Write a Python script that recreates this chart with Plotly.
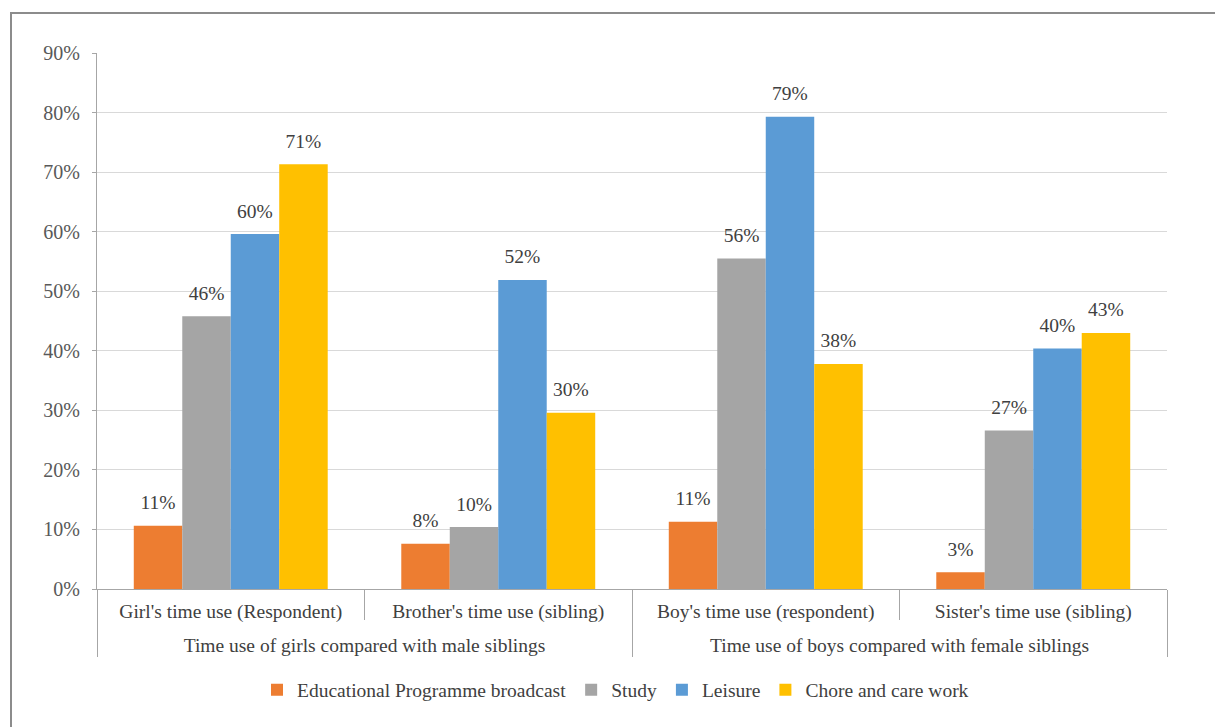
import plotly.graph_objects as go

groups = ["Time use of girls compared with male siblings"] * 2 + ["Time use of boys compared with female siblings"] * 2
categories = ["Girl's time use (Respondent)", "Brother's time use (sibling)",
              "Boy's time use (respondent)", "Sister's time use (sibling)"]

series_names = ["Educational Programme broadcast", "Study", "Leisure", "Chore and care work"]
edu = [0.106, 0.076, 0.113, 0.028]
study = [0.458, 0.104, 0.555, 0.266]
leisure = [0.596, 0.519, 0.793, 0.404]
chore = [0.713, 0.296, 0.378, 0.430]
edu_labels = ["11%", "8%", "11%", "3%"]
study_labels = ["46%", "10%", "56%", "27%"]
leisure_labels = ["60%", "52%", "79%", "40%"]
chore_labels = ["71%", "30%", "38%", "43%"]
colors = ["#ED7D31", "#A5A5A5", "#5B9BD5", "#FFC000"]

y_ticks = [0, 0.1, 0.2, 0.3, 0.4, 0.5, 0.6, 0.7, 0.8, 0.9]

FONT = "Liberation Serif"
FS = 19.5

# a tall invisible non-breaking space on each side of the first-row labels gives
# that row more height, so the group row sits lower, as in the original
PAD = "<span style='font-size:34px'>\u00a0</span>"
cat_display = [PAD + c + PAD for c in categories]
x_multi = [groups, cat_display]

fig = go.Figure()
for i, (name, vals, col) in enumerate(zip(series_names, [edu, study, leisure, chore], colors)):
    fig.add_trace(go.Bar(
        x=x_multi, y=vals, name=name, marker_color=col,
        marker_line_width=0, offsetgroup=str(i), hoverinfo="skip",
    ))
for i, (vals, labs) in enumerate(zip([edu, study, leisure, chore],
                                     [edu_labels, study_labels, leisure_labels, chore_labels])):
    fig.add_trace(go.Scatter(
        x=x_multi, y=vals, mode="markers+text", text=labs,
        textposition="top center", offsetgroup=str(i), showlegend=False,
        marker=dict(size=17, opacity=0), cliponaxis=False,
        textfont=dict(family=FONT, size=FS, color="#404040"), hoverinfo="skip",
    ))

# the page body has an 8px margin, so the figure is sized to fill the rest
W, H = 1215, 719
L, R, T, B = 89, 56, 45, 138

fig.update_layout(
    width=W, height=H,
    margin=dict(l=L, r=R, t=T, b=B),
    paper_bgcolor="white", plot_bgcolor="white",
    barmode="group", bargap=0.275, bargroupgap=0,
    scattermode="group", scattergap=0.275,
    font=dict(family=FONT, size=FS, color="#404040"),
    showlegend=True,
    legend=dict(orientation="h", xref="container", yref="container",
                x=0.5, xanchor="center", y=1 - 682 / H, yanchor="middle",
                font=dict(family=FONT, size=FS, color="#404040"),
                itemsizing="constant"),
    xaxis=dict(
        type="multicategory", automargin=False,
        showline=True, linecolor="#A6A6A6", linewidth=1,
        ticks="outside", tickson="boundaries", ticklen=30, tickcolor="#A6A6A6",
        showdividers=True, dividercolor="#A6A6A6", dividerwidth=1,
        ticklabelstandoff=5,
        tickfont=dict(family=FONT, size=FS, color="#404040"),
        showgrid=False,
    ),
    yaxis=dict(
        range=[0, 0.9], tickvals=y_ticks, tickformat=".0%",
        automargin=False,
        showgrid=True, gridcolor="#D9D9D9", gridwidth=1,
        showline=True, linecolor="#A6A6A6", linewidth=1,
        ticks="outside", ticklen=4, tickcolor="#A6A6A6",
        ticklabelstandoff=8,
        tickfont=dict(family=FONT, size=20, color="#595959"),
        zeroline=False,
    ),
)

pw, ph = W - L - R, H - T - B

def px_x(p):
    return (p - L) / pw

def px_y(p):
    return (H - B - p) / ph

fig.add_shape(type="rect", xref="paper", yref="paper",
              x0=px_x(3), x1=px_x(1240), y0=px_y(740), y1=px_y(5),
              line=dict(color="#8C8C8C", width=2), fillcolor="rgba(0,0,0,0)",
              layer="below")

fig.write_html("out.html")
